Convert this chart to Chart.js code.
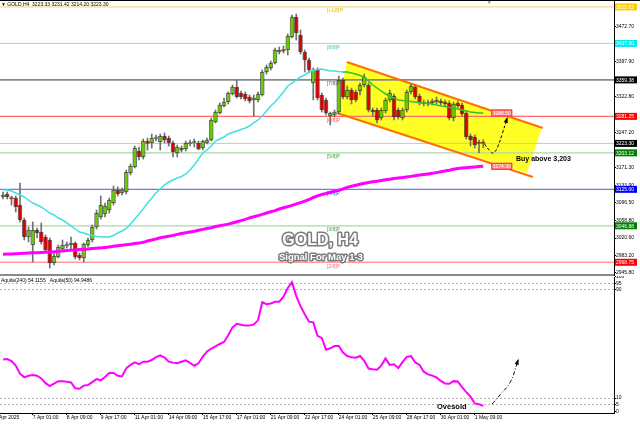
<!DOCTYPE html>
<html>
<head>
<meta charset="utf-8">
<title>GOLD H4</title>
<script src="https://cdn.jsdelivr.net/npm/chart.js@4.4.1/dist/chart.umd.min.js"></script>
<style>
  body { margin: 0; background: #fff; }
  #wrap { position: relative; width: 640px; height: 427px; overflow: hidden; background: #fff; }
  canvas { position: absolute; left: 0; }
  #mainChart { top: 0; }
  #oscChart { top: 276px; }
</style>
</head>
<body>
<div id="wrap">
  <canvas id="mainChart" width="640" height="276"></canvas>
  <canvas id="oscChart" width="640" height="151"></canvas>
</div>
<script>
// ---- candles (H4, 4 Apr .. 1 May) ----
const opens = [3108.6,3115.0,3107.5,3106.4,3091.4,3059.3,3022.9,3005.8,3037.9,3033.6,
3022.9,3016.5,2967.2,2980.1,2997.2,3003.7,3005.8,3010.1,2984.4,2977.9,
3005.8,3016.5,3044.3,3065.7,3072.2,3080.7,3095.7,3123.6,3117.1,3119.3,
3160.0,3172.8,3207.1,3194.2,3228.5,3224.2,3233.9,3226.4,3239.2,3234.9,
3224.2,3202.8,3213.5,3211.4,3222.1,3224.2,3224.2,3213.5,3224.2,3230.6,
3269.2,3288.5,3303.5,3312.0,3329.2,3344.2,3331.3,3329.2,3322.7,3316.3,
3316.3,3327.0,3376.3,3384.9,3395.6,3419.1,3424.5,3423.4,3451.3,3494.1,
3455.5,3419.1,3402.0,3352.7,3380.6,3327.0,3316.3,3282.0,3284.2,3290.6,
3359.2,3322.7,3337.7,3333.5,3335.6,3348.4,3348.4,3294.9,3294.9,3277.8,
3292.8,3316.3,3324.9,3294.9,3277.8,3294.9,3333.5,3344.2,3324.9,3311.0,
3307.8,3309.9,3312.0,3314.2,3312.0,3309.9,3277.8,3309.9,3305.6,3288.5,
3239.2,3237.1,3226.4,3223.33];
const highs = [3119.3,3119.3,3110.7,3110.7,3138.5,3063.6,3044.3,3055.0,3042.2,3052.9,
3027.2,3020.8,2988.6,3005.8,3016.5,3012.2,3022.9,3012.2,2988.6,3010.1,
3020.8,3048.6,3080.7,3110.7,3095.7,3106.4,3132.1,3130.0,3127.9,3166.4,
3179.2,3217.8,3215.7,3232.8,3234.9,3243.5,3241.4,3243.5,3245.6,3239.2,
3228.5,3219.9,3217.8,3228.5,3230.6,3232.8,3228.5,3230.6,3234.9,3277.8,
3294.9,3309.9,3320.6,3333.5,3348.4,3359.2,3335.6,3333.5,3327.0,3327.0,
3333.5,3380.6,3391.3,3399.8,3427.7,3429.8,3432.0,3457.7,3498.4,3500.5,
3466.2,3423.4,3406.3,3384.9,3384.9,3331.3,3320.6,3290.6,3294.9,3367.7,
3363.4,3346.3,3342.0,3337.7,3352.7,3372.0,3352.7,3299.2,3299.2,3299.2,
3320.6,3337.7,3329.2,3299.2,3299.2,3337.7,3350.6,3348.4,3329.2,3316.3,
3316.3,3318.5,3322.7,3318.5,3316.3,3314.2,3312.0,3314.2,3309.9,3292.8,
3243.5,3241.4,3230.6,3231.42];
const lows = [3104.3,3104.3,3091.4,3076.4,3055.0,3016.5,3012.2,2969.4,3020.8,3007.9,
2990.8,2956.5,2963.0,2977.9,2992.9,2999.4,2995.1,2975.8,2973.7,2969.4,
3001.5,3012.2,3040.0,3061.5,3065.7,3074.3,3091.4,3110.7,3112.9,3115.0,
3155.7,3170.7,3187.8,3189.9,3209.2,3213.5,3228.5,3209.2,3224.2,3217.8,
3194.2,3194.2,3204.9,3207.1,3217.8,3215.7,3209.2,3209.2,3222.1,3228.5,
3267.1,3286.3,3301.3,3307.8,3327.0,3320.6,3318.5,3314.2,3309.9,3282.0,
3312.0,3324.9,3372.0,3380.6,3393.4,3414.8,3417.0,3412.7,3449.1,3444.8,
3414.8,3376.3,3374.2,3316.3,3316.3,3290.6,3284.2,3262.8,3279.9,3286.3,
3318.5,3318.5,3307.8,3312.0,3327.0,3344.2,3290.6,3282.0,3267.1,3273.5,
3288.5,3312.0,3273.5,3275.6,3273.5,3290.6,3329.2,3318.5,3305.6,3303.5,
3303.5,3305.6,3307.8,3305.6,3303.5,3273.5,3271.3,3299.2,3282.0,3232.8,
3217.8,3213.5,3202.8,3214.20];
const closes = [3112.9,3108.6,3104.3,3087.2,3059.3,3022.9,3037.9,3037.9,3031.5,3012.2,
2995.1,2967.2,2982.2,3001.5,3005.8,3006.8,3010.1,2980.1,2977.9,3007.9,
3016.5,3044.3,3074.3,3091.4,3089.3,3102.1,3123.6,3115.0,3123.6,3162.1,
3175.0,3213.5,3194.2,3228.5,3223.2,3234.9,3237.1,3239.2,3230.6,3224.2,
3204.9,3215.7,3209.2,3224.2,3225.3,3227.4,3211.4,3228.5,3230.6,3273.5,
3290.6,3305.6,3312.0,3331.3,3344.2,3322.7,3322.7,3318.5,3314.2,3320.6,
3329.2,3376.3,3387.0,3395.6,3423.4,3423.4,3421.3,3453.4,3494.1,3459.8,
3419.1,3402.0,3380.6,3380.6,3320.6,3294.9,3288.5,3288.5,3290.6,3359.2,
3322.7,3337.7,3316.3,3316.3,3348.4,3365.6,3294.9,3290.6,3273.5,3294.9,
3316.3,3331.3,3279.9,3279.9,3294.9,3333.5,3346.3,3322.7,3309.9,3307.8,
3311.0,3314.2,3316.3,3309.9,3307.8,3277.8,3307.8,3303.5,3286.3,3237.1,
3230.6,3219.9,3223.2,3223.30];

// moving averages
const maFast = [3123.6,3123.6,3121.4,3117.1,3112.9,3108.6,3102.1,3095.7,3091.4,3087.2,
3080.7,3074.3,3070.0,3063.6,3059.3,3052.9,3046.5,3040.0,3033.6,3031.5,
3028.3,3026.1,3024.0,3022.9,3022.9,3022.9,3026.1,3031.5,3035.7,3041.1,
3050.7,3061.5,3072.2,3082.9,3095.7,3106.4,3117.1,3125.7,3134.3,3140.7,
3145.0,3149.3,3152.5,3157.8,3166.4,3177.1,3189.9,3202.8,3209.2,3217.8,
3228.5,3232.8,3237.1,3243.5,3246.7,3249.9,3253.1,3256.3,3260.6,3267.1,
3273.5,3282.0,3292.8,3303.5,3312.0,3322.7,3333.5,3346.3,3352.7,3359.2,
3365.6,3369.9,3376.3,3379.5,3381.6,3382.7,3380.6,3378.4,3378.4,3377.4,
3376.3,3376.3,3374.2,3372.0,3368.8,3365.6,3357.0,3348.4,3342.0,3335.6,
3329.2,3324.9,3320.6,3316.3,3315.3,3314.2,3313.1,3312.0,3311.0,3309.9,
3308.8,3307.8,3305.6,3303.5,3302.4,3300.3,3298.1,3297.1,3294.9,3292.8,
3290.6,3289.6,3288.5,3288.5];
const maSlow = [2985.8,2986.3,2986.7,2987.1,2987.6,2988.0,2988.4,2988.9,2989.3,2989.7,
2990.3,2990.8,2991.4,2992.1,2992.9,2993.8,2994.4,2995.1,2995.9,2996.6,
2997.2,2998.1,2998.9,2999.6,3000.6,3001.7,3003.0,3004.1,3005.1,3006.2,
3007.5,3008.8,3009.8,3011.5,3014.3,3016.5,3018.6,3021.2,3022.9,3024.6,
3026.3,3028.5,3030.2,3031.9,3033.6,3035.3,3037.5,3039.2,3041.1,3042.8,
3045.2,3046.9,3048.8,3050.5,3052.9,3055.4,3058.0,3060.6,3063.8,3066.2,
3068.7,3071.3,3074.3,3076.9,3079.4,3082.9,3085.4,3088.0,3090.6,3093.8,
3096.6,3099.8,3103.2,3107.5,3111.1,3113.9,3116.1,3118.6,3120.8,3122.9,
3125.7,3129.3,3131.7,3133.6,3135.8,3137.9,3139.6,3141.1,3142.4,3143.9,
3145.4,3146.7,3148.0,3149.3,3150.1,3151.4,3152.7,3154.0,3155.5,3156.8,
3158.0,3159.3,3160.8,3162.5,3164.3,3166.0,3168.1,3169.4,3170.5,3171.3,
3172.2,3173.0,3173.7,3174.3];

// Aquila(50) oscillator
const aquila = [38.5,38.9,37.4,34,28,25.3,26.5,27,26.5,24.5,
21,18.8,20.6,22.5,22.5,22.1,21.5,17.2,16.8,19.2,
19.6,21.8,24,23.1,25.5,28.5,28.5,26.5,26,32,
34.5,36.4,35,36.9,36.9,38.1,40.3,41.6,40,36.9,
36.2,35.7,36.8,37.9,36,33.9,35.7,40.5,44.5,46.5,
48.2,50,51.5,56.5,62.3,65,64.2,63.6,63.6,64.5,
67.5,80.9,79.5,80,81.3,81.3,85,91.5,95.7,85.5,
78,72,66.5,66,56,54.5,45.8,46.8,48.5,48.5,
43.6,41.1,40.1,39.8,41.1,37.5,31.8,31.3,30.9,34,
39.3,34.5,35,32.2,36.5,40.5,41,36.3,34.5,29.5,
27.5,26.6,25.2,22.6,20.8,20.5,22.5,22.3,18,14.4,
11,6,5.4,4.2];

// Murray math levels
const murrayLabels = ['[+1/8]P','[8/8]P','[7/8]P','[6/8]P','[5/8]P','[4/8]P','[3/8]P','[2/8]P'];
const murrayLevels = [3515.62,3437.50,3359.38,3281.25,3203.12,3125.00,3046.88,2968.75];
const lastPrice = 3223.30;

// axis ticks
const priceTicks = [2945.80,2983.20,3020.60,3058.80,3096.50,3133.90,3171.30,3247.20,3322.80,3397.90,3472.70];
const aquilaTicks = [0,5,10,90,95,100];
const aquilaDashed = [5,10,90,95];
const timeTickIdx = [-1.9,7,15,23,31,39,47,55,63,71,79,87,95,103,111];
const timeTickText = ['4 Apr 2025','7 Apr 01:00','8 Apr 09:00','9 Apr 17:00','11 Apr 01:00','14 Apr 09:00',
  '15 Apr 17:00','17 Apr 01:00','21 Apr 09:00','22 Apr 17:00','24 Apr 01:00','25 Apr 09:00',
  '28 Apr 17:00','30 Apr 01:00','1 May 09:00'];

// descending channel (bar index, price)
const channelIdx = [80.9,126.8,123.3,78.6,80.9];
const channelPrice = [3397.7,3258.5,3160.0,3288.5,3397.7];
const upperEdgeIdx = [80.9,127.0];
const upperEdgePrice = [3397.7,3256.4];
const lowerEdgeIdx = [78.6,124.7];
const lowerEdgePrice = [3288.5,3151.4];

// projected moves
const signalIdx = [113.3,114.5,115.3,116.3,117.5,118.6];
const signalPrice = [3222,3208,3202.5,3214,3245,3277];
const oscArrowIdx = [115.1,117,119.4,121.2];
const oscArrowVal = [5.6,12.5,22,38];

// ---- styles ----
const FONT = '"Liberation Sans", Arial, sans-serif';
const levelColors = ['#f0d468','#6ceeee','#8a8a8a','#ff6a6a','#a8d8a8','#7474ff','#a8d8a8','#ff9e9e'];
const levelWidths = [1,1,1.6,1.3,1.3,1.3,1.3,1.3];
const levelTextColors = ['#e6b800','#2ec8c8','#555','#ff4a4a','#3aa63a','#3c3cff','#3aa63a','#ff6a6a'];
const boxFill = ['#ffcc00','#00e8f0','#000','#ff0000','#008000','#0000ff','#008000','#ff0000'];
const X_MIN = -0.706, X_MAX = 143.76;
const murrayLabelAt = 76.2;

Chart.defaults.font.family = FONT;

const pts = (xs, ys) => xs.map((v, k) => ({x: v, y: ys[k]}));
const idx = opens.map((_, i) => i);

function arrowHead(ctx, meta, size) {
  const p = meta.data;
  const p1 = p[p.length - 1];
  const p0 = (p1.cp1x !== undefined) ? {x: p1.cp1x, y: p1.cp1y} : p[p.length - 2];
  const ang = Math.atan2(p1.y - p0.y, p1.x - p0.x);
  ctx.beginPath();
  ctx.moveTo(p1.x + Math.cos(ang) * 1.5, p1.y + Math.sin(ang) * 1.5);
  ctx.lineTo(p1.x - Math.cos(ang - 0.45) * size, p1.y - Math.sin(ang - 0.45) * size);
  ctx.lineTo(p1.x - Math.cos(ang + 0.45) * size, p1.y - Math.sin(ang + 0.45) * size);
  ctx.closePath();
  ctx.fill();
}

function outlinedText(ctx, t, x, y, font) {
  ctx.font = font;
  ctx.textAlign = 'center';
  ctx.textBaseline = 'middle';
  ctx.lineJoin = 'round';
  ctx.lineWidth = 3;
  ctx.strokeStyle = '#7c7c7c';
  ctx.strokeText(t, x, y);
  ctx.fillStyle = '#fff';
  ctx.fillText(t, x, y);
}

const mainOverlay = {
  id: 'mainOverlay',
  afterDraw(chart) {
    const {ctx, chartArea: a} = chart;
    const xs = chart.scales.x, ys = chart.scales.y;
    ctx.save();
    // frame + separator
    ctx.fillStyle = '#000';
    ctx.fillRect(0, 0, chart.width, 1);
    ctx.fillStyle = '#8a8a8a';
    ctx.fillRect(0, chart.height - 2, a.right, 2);

    // murray captions
    ctx.font = '5px ' + FONT;
    ctx.textAlign = 'left';
    ctx.textBaseline = 'top';
    murrayLevels.forEach((v, k) => {
      ctx.fillStyle = levelTextColors[k];
      ctx.fillText(murrayLabels[k], xs.getPixelForValue(murrayLabelAt), ys.getPixelForValue(v) + 1.5);
    });

    // price boxes on the axis
    const boxes = murrayLevels.map((v, k) => ({v, fill: boxFill[k]}));
    boxes.push({v: lastPrice, fill: '#000'});
    ctx.textBaseline = 'middle';
    boxes.forEach(b => {
      const py = ys.getPixelForValue(b.v);
      ctx.fillStyle = b.fill;
      ctx.fillRect(a.right + 1, py - 3.5, 22, 7);
      ctx.fillStyle = '#fff';
      ctx.fillText(b.v.toFixed(2), a.right + 2, py + 0.5);
    });

    // tags at the end of the averages
    [maFast, maSlow].forEach(arr => {
      const px = xs.getPixelForValue(arr.length - 1) + 8;
      const py = ys.getPixelForValue(arr[arr.length - 1]);
      ctx.fillStyle = '#ff8080';
      ctx.fillRect(px, py - 3.5, 21, 7);
      ctx.strokeStyle = '#ff3030';
      ctx.lineWidth = 1;
      ctx.strokeRect(px + 0.5, py - 3, 20, 6);
      ctx.fillStyle = '#fff';
      ctx.fillText(arr[arr.length - 1].toFixed(2), px + 1.5, py + 0.5);
    });

    // title line
    ctx.fillStyle = '#000';
    ctx.textBaseline = 'middle';
    const n = opens.length - 1;
    ctx.fillText('\u25BC GOLD,H4  ' + [opens[n], highs[n], lows[n], closes[n]].map(v => v.toFixed(2)).join(' '), 1, 5);
    ctx.fillStyle = '#8c8c8c';
    ctx.textAlign = 'center';
    ctx.fillText('\u25BC', xs.getPixelForValue(114.4), 3);

    // signal arrow head
    const si = chart.data.datasets.findIndex(d => d.label === 'signal');
    ctx.fillStyle = '#000';
    arrowHead(ctx, chart.getDatasetMeta(si), 5);

    // notes
    ctx.font = 'bold 7px ' + FONT;
    ctx.textAlign = 'left';
    ctx.fillStyle = '#000';
    ctx.fillText('Buy above 3,203', xs.getPixelForValue(120.7), ys.getPixelForValue(3189.9));
    outlinedText(ctx, 'GOLD, H4', xs.getPixelForValue(74.6), ys.getPixelForValue(3015.4), 'bold 16px ' + FONT);
    outlinedText(ctx, 'Signal For May 1-3', xs.getPixelForValue(74.8), ys.getPixelForValue(2980.1), 'bold 9.5px ' + FONT);
    ctx.restore();
  }
};

const levelSets = murrayLevels.map((v, k) => ({
  type: 'line', data: pts([-1, 145], [v, v]),
  borderColor: levelColors[k], borderWidth: levelWidths[k], order: 8
}));

new Chart(document.getElementById('mainChart'), {
  type: 'bar',
  data: {
    datasets: [
      {type: 'line', label: 'channel', data: pts(channelIdx, channelPrice), fill: 'shape',
       backgroundColor: '#ffff26', borderColor: 'rgba(0,0,0,0)', borderWidth: 1, order: 10},
      ...levelSets,
      {type: 'line', data: pts([-1, 145], [lastPrice, lastPrice]), borderColor: '#c8c8c8', borderWidth: 1, order: 8},
      {type: 'line', data: pts(upperEdgeIdx, upperEdgePrice), borderColor: '#ff7000', borderWidth: 2.2, order: 7},
      {type: 'line', data: pts(lowerEdgeIdx, lowerEdgePrice), borderColor: '#ff7000', borderWidth: 2.2, order: 7},
      {type: 'bar', data: idx.map(i => ({x: i, y: [lows[i], highs[i]]})), backgroundColor: '#707070',
       barThickness: 1, grouped: false, order: 5},
      {type: 'bar', data: idx.map(i => ({x: i, y: [opens[i], closes[i]]})),
       backgroundColor: idx.map(i => closes[i] >= opens[i] ? '#66cc00' : '#dd0000'),
       borderColor: 'rgba(0,0,0,0.55)', borderWidth: 1, borderSkipped: false,
       barThickness: 4, minBarLength: 1, grouped: false, order: 4},
      {type: 'line', data: idx.map(i => ({x: i, y: maSlow[i]})), borderColor: '#ff00ff', borderWidth: 3, order: 3},
      {type: 'line', data: idx.map(i => ({x: i, y: maFast[i]})), borderColor: '#40e0e0', borderWidth: 1.5,
       segment: {borderColor: c => c.p0DataIndex >= 80 ? '#30c030' : '#40e0e0'}, order: 3},
      {type: 'line', label: 'signal', data: pts(signalIdx, signalPrice), borderColor: '#000', borderWidth: 1,
       borderDash: [3, 2], tension: 0.4, order: 1}
    ]
  },
  options: {
    responsive: false, animation: false, events: [],
    layout: {padding: 0},
    elements: {point: {radius: 0}},
    plugins: {legend: {display: false}, tooltip: {enabled: false}},
    scales: {
      x: {type: 'linear', min: X_MIN, max: X_MAX, offset: false, display: false, grid: {offset: false}},
      y: {
        position: 'right', min: 2939.35, max: 3530.5, beginAtZero: false,
        afterBuildTicks: s => { s.ticks = priceTicks.map(v => ({value: v})); },
        afterFit: s => { s.width = 26; s.paddingTop = 0; s.paddingBottom = 0; },
        ticks: {font: {size: 5}, color: '#000', padding: 0, callback: v => v.toFixed(2)},
        grid: {drawOnChartArea: false, tickLength: 2, color: '#000'},
        border: {color: '#000'}
      }
    }
  },
  plugins: [mainOverlay]
});

const oscOverlay = {
  id: 'oscOverlay',
  afterDraw(chart) {
    const {ctx} = chart;
    const xs = chart.scales.x, ys = chart.scales.y;
    ctx.save();
    ctx.font = '5px ' + FONT;
    ctx.fillStyle = '#000';
    ctx.textAlign = 'left';
    ctx.textBaseline = 'middle';
    ctx.fillText('Aquila(240) 54.1155   Aquila(50) 94.9486', 1, 5);
    const ai = chart.data.datasets.findIndex(d => d.label === 'oscArrow');
    ctx.fillStyle = '#111';
    arrowHead(ctx, chart.getDatasetMeta(ai), 5);
    ctx.font = 'bold 7.5px ' + FONT;
    ctx.textAlign = 'center';
    ctx.fillStyle = '#000';
    ctx.fillText('Ovesold', xs.getPixelForValue(105.6), ys.getPixelForValue(3.3));
    ctx.restore();
  }
};

new Chart(document.getElementById('oscChart'), {
  type: 'line',
  data: {
    datasets: [
      {label: 'aquila', data: idx.map(i => ({x: i, y: aquila[i]})), borderColor: '#ff00ff', borderWidth: 2, order: 2},
      {label: 'oscArrow', data: pts(oscArrowIdx, oscArrowVal), borderColor: '#111', borderWidth: 1,
       borderDash: [4, 2, 1, 2], tension: 0.4, order: 1}
    ]
  },
  options: {
    responsive: false, animation: false, events: [],
    layout: {padding: {top: 1}},
    elements: {point: {radius: 0}},
    plugins: {legend: {display: false}, tooltip: {enabled: false}},
    scales: {
      x: {
        type: 'linear', min: X_MIN, max: X_MAX, offset: false,
        afterBuildTicks: s => { s.ticks = timeTickIdx.map(v => ({value: v})); },
        afterFit: s => { s.height = 14; s.paddingLeft = 0; s.paddingRight = 0; },
        ticks: {autoSkip: false, maxRotation: 0, minRotation: 0, align: 'start', padding: 0,
                font: {size: 5}, color: '#000', callback: (v, i) => timeTickText[i]},
        grid: {drawOnChartArea: false, tickLength: 2, color: '#000'},
        border: {color: '#000'}
      },
      y: {
        position: 'right', min: -1.1, max: 99.6,
        afterBuildTicks: s => { s.ticks = aquilaTicks.map(v => ({value: v})); },
        afterFit: s => { s.width = 26; s.paddingTop = 0; s.paddingBottom = 0; },
        ticks: {font: {size: 5}, color: '#000', padding: 0, callback: v => String(v)},
        grid: {color: c => (c.tick && aquilaDashed.includes(c.tick.value)) ? '#b4b4b4' : 'rgba(0,0,0,0)',
               tickColor: '#000', tickLength: 2},
        border: {color: '#000', dash: [2, 2]}
      }
    }
  },
  plugins: [oscOverlay]
});
</script>
</body>
</html>
